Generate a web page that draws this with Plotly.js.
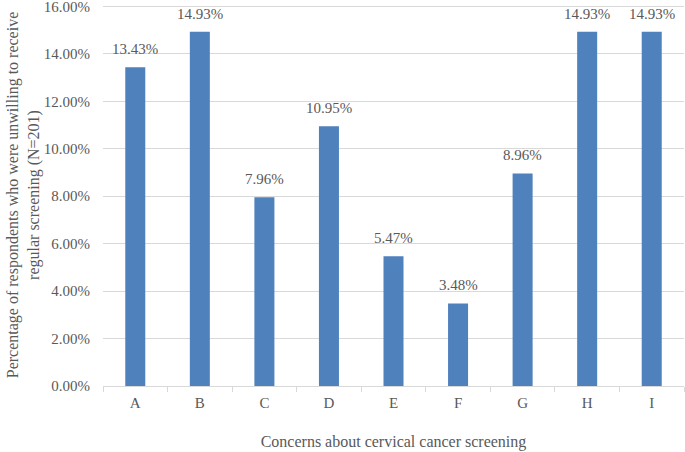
<!DOCTYPE html>
<html>
<head>
<meta charset="utf-8">
<script src="https://cdn.plot.ly/plotly-3.0.1.min.js"></script>
<style>html,body{margin:0;padding:0;background:#fff;}#chart{width:685px;height:452px;}</style>
</head>
<body>
<div id="chart"></div>
<script>
const categories = ['A','B','C','D','E','F','G','H','I'];
const values = [13.43, 14.93, 7.96, 10.95, 5.47, 3.48, 8.96, 14.93, 14.93];
const labels = ['13.43%','14.93%','7.96%','10.95%','5.47%','3.48%','8.96%','14.93%','14.93%'];
const yTicks = [0,2,4,6,8,10,12,14,16];
const yTickLabels = ['0.00%','2.00%','4.00%','6.00%','8.00%','10.00%','12.00%','14.00%','16.00%'];

const font = 'Liberation Serif';
const grey = '#595959';

const valueLabels = categories.map((c, i) => ({
  x: c, y: values[i], xref: 'x', yref: 'y',
  text: labels[i], showarrow: false,
  yanchor: 'bottom', yshift: 8,
  font: {family: font, size: 15, color: grey}
}));

Plotly.newPlot('chart', [{
  type: 'bar',
  x: categories,
  y: values,
  marker: {color: '#4F81BD', line: {color: '#4F81BD', width: 0}},
  hoverinfo: 'none'
}], {
  width: 685, height: 452,
  margin: {l: 103, r: 1, t: 4, b: 66},
  paper_bgcolor: '#fff', plot_bgcolor: '#fff',
  bargap: 0.69,
  showlegend: false,
  font: {family: font, size: 15, color: grey},
  annotations: valueLabels,
  xaxis: {
    tickson: 'boundaries', ticks: 'outside', ticklen: 5, tickcolor: '#D9D9D9',
    showline: true, linecolor: '#D9D9D9', linewidth: 1,
    showgrid: false,
    ticklabelstandoff: 3,
    tickfont: {family: font, size: 15, color: grey},
    title: {text: 'Concerns about cervical cancer screening', font: {family: font, size: 16, color: grey}, standoff: 25}
  },
  yaxis: {
    range: [0, 16.1],
    tickvals: yTicks, ticktext: yTickLabels,
    showgrid: true, gridcolor: '#D9D9D9', gridwidth: 1,
    zeroline: false, showline: false, ticks: '',
    ticklabelstandoff: 12,
    ticklabeloverflow: 'allow',
    tickfont: {family: font, size: 15, color: grey},
    title: {text: 'Percentage of respondents who were unwilling to receive<br>regular screening (N=201)', font: {family: font, size: 16, color: grey}, standoff: 0}
  }
}, {displayModeBar: false, staticPlot: true});
</script>
</body>
</html>
